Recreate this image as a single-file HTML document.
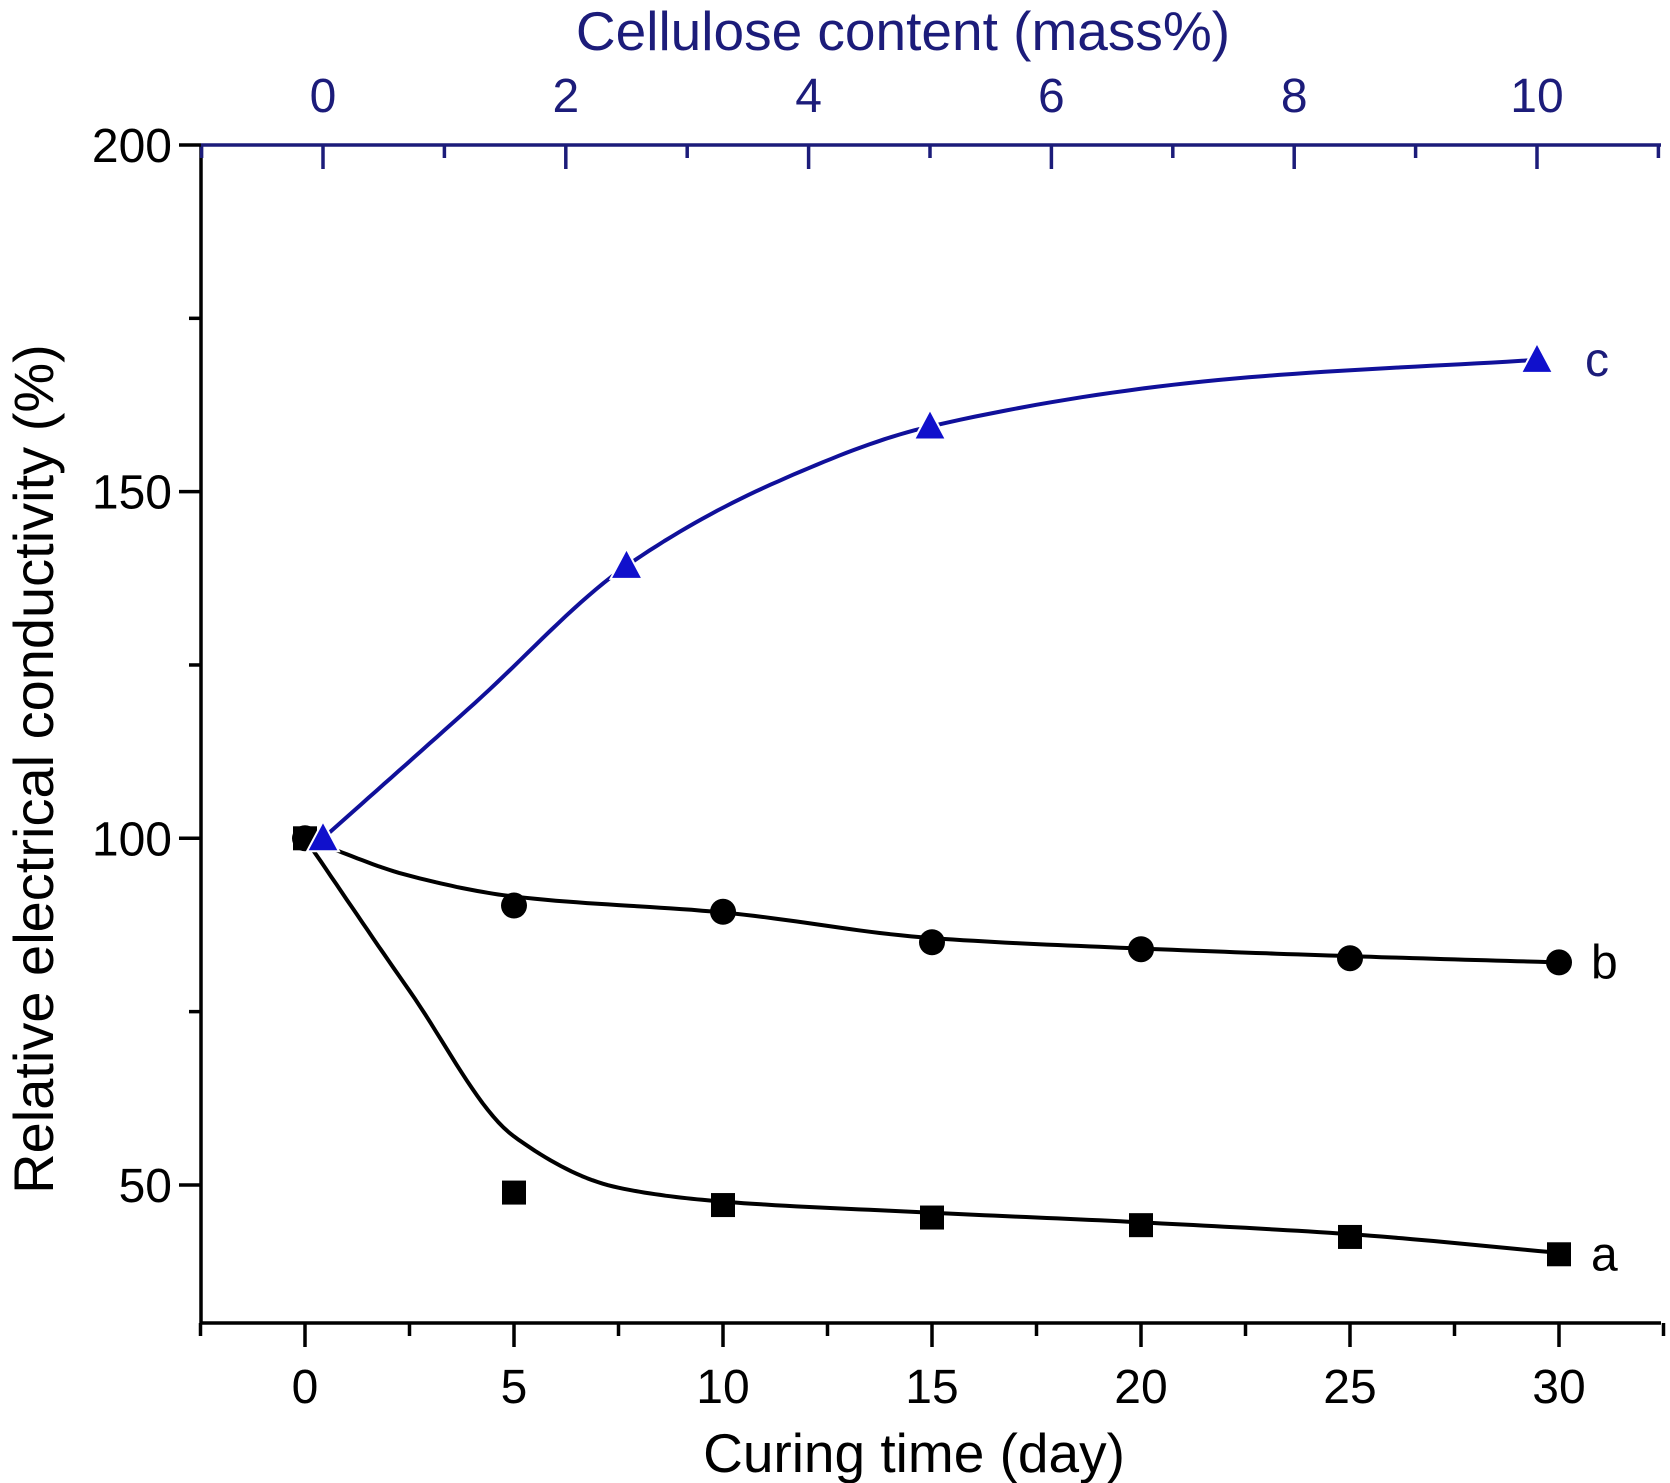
<!DOCTYPE html>
<html><head><meta charset="utf-8"><style>
html,body{margin:0;padding:0;background:#fff;}
svg{display:block;font-family:"Liberation Sans",sans-serif;}
</style></head><body>
<svg id="chart" width="1670" height="1483" viewBox="0 0 1670 1483">
<g id="axes"></g>
<g id="plot"></g>
<text x="903" y="50" text-anchor="middle" font-size="55" fill="#1c1c7a">Cellulose content (mass%)</text>
<text x="914" y="1472" text-anchor="middle" font-size="55" fill="#000">Curing time (day)</text>
<text transform="translate(53,769) rotate(-90)" text-anchor="middle" font-size="56" fill="#000">Relative electrical conductivity (%)</text>
</svg>
<script>
const days = [0,5,10,15,20,25,30];
const seriesA = [100,48.9,47.1,45.3,44.2,42.5,40.0];
const seriesB = [100,90.3,89.4,85.0,84.0,82.7,82.1];
const cellulose = [0,2.5,5,10];
const seriesC = [100,139.3,159.4,169.0];
const fitDaysA = [0,2.5,5,7.5,10,15,20,25,30];
const fitA = [100,78,57,49.6,47.6,46,44.6,42.9,40.2];
const fitDaysB = [0,2.5,5,10,15,20,25,30];
const fitB = [100,94.6,91.6,89.3,85.6,84.1,83.0,82.1];
const fitCellC = [0,1.25,2.5,3.75,5,7.5,10];
const fitC = [100,119.5,139.3,151.5,159.4,166.3,169.0];
const xTicks = [0,5,10,15,20,25,30];
const topTicks = [0,2,4,6,8,10];
const yTicks = [50,100,150,200];

const NS='http://www.w3.org/2000/svg';
const L=201,R=1661,T=145,B=1323;
const xDay=d=>305+d*41.8;
const xCell=c=>323+c*121.4;
const yV=v=>145+(200-v)*6.933;
const axes=document.getElementById('axes'), plot=document.getElementById('plot');
function mk(tag,attrs,parent){const e=document.createElementNS(NS,tag);for(const k in attrs)e.setAttribute(k,attrs[k]);parent.appendChild(e);return e;}

let e;
e=mk('line',{x1:L,y1:T,x2:R,y2:T,stroke:'#1c1c7a','stroke-width':3.5},axes);


e=mk('line',{x1:L,y1:B,x2:R,y2:B,stroke:'#000','stroke-width':3.5},axes);


e=mk('line',{x1:L,y1:T,x2:L,y2:B,stroke:'#000','stroke-width':3.5},axes);



for(let d=-2.5;d<=32.5;d+=2.5){
  const major=Math.abs(d%5)<1e-6;
  e=mk('line',{x1:xDay(d),y1:B,x2:xDay(d),y2:B+(major?24:13),stroke:'#000','stroke-width':3.5},axes);
  
  
}
xTicks.forEach(t=>{
  e=mk('text',{x:xDay(t),y:1403,'text-anchor':'middle','font-size':48,fill:'#000'},axes);e.textContent=t;
  
  
});
for(let c=-1;c<=11;c+=1){
  const major=c%2===0;
  e=mk('line',{x1:xCell(c),y1:T,x2:xCell(c),y2:T+(major?24:13),stroke:'#1c1c7a','stroke-width':3.5},axes);
  
  
}
topTicks.forEach(t=>{
  e=mk('text',{x:xCell(t),y:112,'text-anchor':'middle','font-size':48,fill:'#1c1c7a'},axes);e.textContent=t;
  
  
});
for(let v=50;v<=200;v+=25){
  const major=v%50===0;
  e=mk('line',{x1:L,y1:yV(v),x2:L-(major?22:12),y2:yV(v),stroke:'#000','stroke-width':3.5},axes);
  
  
}
yTicks.forEach(t=>{
  e=mk('text',{x:172,y:yV(t)+17,'text-anchor':'end','font-size':48,fill:'#000'},axes);e.textContent=t;
  
  
});

// monotone cubic (Fritsch-Carlson) in data space, sampled densely
function monotonePath(xs,ys,fx){
  const n=xs.length,h=[],s=[],m=[];
  for(let i=0;i<n-1;i++){h[i]=xs[i+1]-xs[i];s[i]=(ys[i+1]-ys[i])/h[i];}
  m[0]=s[0];m[n-1]=s[n-2];
  for(let i=1;i<n-1;i++){
    if(s[i-1]*s[i]<=0)m[i]=0;
    else{const w1=2*h[i]+h[i-1],w2=h[i]+2*h[i-1];m[i]=(w1+w2)/(w1/s[i-1]+w2/s[i]);}
  }
  let d='';
  for(let i=0;i<n-1;i++){
    for(let k=0;k<=20;k++){
      if(i>0&&k===0)continue;
      const t=k/20,t2=t*t,t3=t2*t;
      const v=(2*t3-3*t2+1)*ys[i]+(t3-2*t2+t)*h[i]*m[i]+(-2*t3+3*t2)*ys[i+1]+(t3-t2)*h[i]*m[i+1];
      const x=xs[i]+t*h[i];
      d+=(d?' L':'M')+fx(x).toFixed(1)+','+yV(v).toFixed(1);
    }
  }
  return d;
}
e=mk('path',{d:monotonePath(fitDaysA,fitA,xDay),fill:'none',stroke:'#000','stroke-width':4,'stroke-linejoin':'round'},plot);


e=mk('path',{d:monotonePath(fitDaysB,fitB,xDay),fill:'none',stroke:'#000','stroke-width':4,'stroke-linejoin':'round'},plot);


e=mk('path',{d:monotonePath(fitCellC,fitC,xCell),fill:'none',stroke:'#10109a','stroke-width':4,'stroke-linejoin':'round'},plot);



days.forEach((d,i)=>{
  e=mk('rect',{x:xDay(d)-12,y:yV(seriesA[i])-12,width:24,height:24,fill:'#000'},plot);
  
  
});
days.forEach((d,i)=>{
  e=mk('circle',{cx:xDay(d),cy:yV(seriesB[i]),r:13,fill:'#000'},plot);
  
  
});
cellulose.forEach((c,i)=>{
  const x=xCell(c),y=yV(seriesC[i]);
  e=mk('polygon',{points:(x-16)+','+(y+13)+' '+(x+16)+','+(y+13)+' '+x+','+(y-17),fill:'#1010cc',stroke:'#fff','stroke-width':2},plot);
  
  
});
const labels=[['a',seriesA[6],xDay(30)+32,'#000'],['b',seriesB[6],xDay(30)+32,'#000'],['c',seriesC[3],xCell(10)+48,'#1c1c7a']];
labels.forEach(l=>{
  e=mk('text',{x:l[2],y:yV(l[1])+16,'font-size':48,fill:l[3]},plot);e.textContent=l[0];
  
  
});
</script>
</body></html>
